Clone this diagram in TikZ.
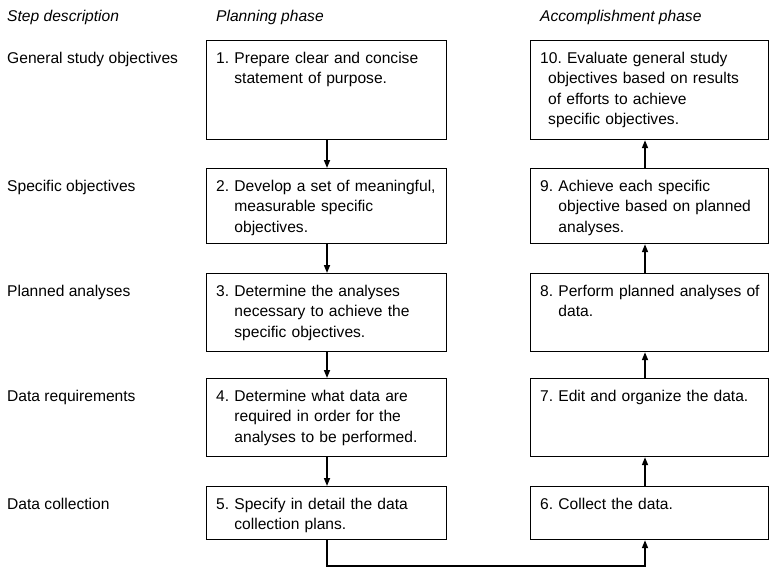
\documentclass[tikz,border=0pt]{standalone}
\usepackage{fontspec}
\setmainfont{Liberation Sans}
\usetikzlibrary{arrows.meta,calc}
\frenchspacing
\begin{document}
\begin{tikzpicture}[x=1pt,y=-1pt,
  box/.style={draw, line width=1.2pt, inner sep=0pt, anchor=north west},
  txt/.style={anchor=base west, align=left, inner sep=0pt, text width=235pt,
    font=\fontsize{15.6}{20.5}\selectfont\frenchspacing},
  lbl/.style={anchor=base west, inner sep=0pt, font=\fontsize{15.6}{20.5}\selectfont},
  hdr/.style={anchor=base west, inner sep=0pt, font=\fontsize{15.6}{20.5}\selectfont\itshape},
  arr/.style={line width=1.6pt, -{Triangle[length=8pt,width=6pt]}}]
\useasboundingbox (0,0) rectangle (770,568);
% headers
\node[hdr] (h1) at (7,21) {Step description};
\node[hdr] (h2) at (216,21) {Planning phase};
\node[hdr] (h3) at (540,21) {Accomplishment phase};
% left column boxes
\node[box, minimum width=240pt, minimum height=99pt] (b1) at (206,40) {};
\node[box, minimum width=240pt, minimum height=75pt] (b2) at (206,168) {};
\node[box, minimum width=240pt, minimum height=78pt] (b3) at (206,273) {};
\node[box, minimum width=240pt, minimum height=78pt] (b4) at (206,378) {};
\node[box, minimum width=240pt, minimum height=53pt] (b5) at (206,486) {};
% right column boxes
\node[box, minimum width=238pt, minimum height=99pt] (b10) at (530,40) {};
\node[box, minimum width=238pt, minimum height=75pt] (b9) at (530,168) {};
\node[box, minimum width=238pt, minimum height=78pt] (b8) at (530,273) {};
\node[box, minimum width=238pt, minimum height=78pt] (b7) at (530,378) {};
\node[box, minimum width=238pt, minimum height=53pt] (b6) at (530,486) {};
% labels
\node[lbl] (l1) at ($(b1.north west)+(-199,23)$) {General study objectives};
\node[lbl] (l2) at ($(b2.north west)+(-199,23)$) {Specific objectives};
\node[lbl] (l3) at ($(b3.north west)+(-199,23)$) {Planned analyses};
\node[lbl] (l4) at ($(b4.north west)+(-199,23)$) {Data requirements};
\node[lbl] (l5) at ($(b5.north west)+(-199,23)$) {Data collection};
% box texts
\node[txt] (t1) at ($(b1.north west)+(10,23)$) {1. Prepare clear and concise\\\hphantom{8. }statement of purpose.};
\node[txt] (t2) at ($(b2.north west)+(10,23)$) {2. Develop a set of meaningful,\\\hphantom{8. }measurable specific\\\hphantom{8. }objectives.};
\node[txt] (t3) at ($(b3.north west)+(10,23)$) {3. Determine the analyses\\\hphantom{8. }necessary to achieve the\\\hphantom{8. }specific objectives.};
\node[txt] (t4) at ($(b4.north west)+(10,23)$) {4. Determine what data are\\\hphantom{8. }required in order for the\\\hphantom{8. }analyses to be performed.};
\node[txt] (t5) at ($(b5.north west)+(10,23)$) {5. Specify in detail the data\\\hphantom{8. }collection plans.};
\node[txt] (t10) at ($(b10.north west)+(10,23)$) {10. Evaluate general study\\\hspace*{8pt}objectives based on results\\\hspace*{8pt}of efforts to achieve\\\hspace*{8pt}specific objectives.};
\node[txt] (t9) at ($(b9.north west)+(10,23)$) {9. Achieve each specific\\\hphantom{8. }objective based on planned\\\hphantom{8. }analyses.};
\node[txt] (t8) at ($(b8.north west)+(10,23)$) {8. Perform planned analyses of\\\hphantom{8. }data.};
\node[txt] (t7) at ($(b7.north west)+(10,23)$) {7. Edit and organize the data.};
\node[txt] (t6) at ($(b6.north west)+(10,23)$) {6. Collect the data.};
% connectors
\coordinate (la) at (327,0);
\coordinate (ra) at (645,0);
\coordinate (bl) at (0,566);
\draw[arr] (b1.south -| la) -- (b2.north -| la);
\draw[arr] (b2.south -| la) -- (b3.north -| la);
\draw[arr] (b3.south -| la) -- (b4.north -| la);
\draw[arr] (b4.south -| la) -- (b5.north -| la);
\draw[arr] (b5.south -| la) -- (bl -| la) -| (b6.south -| ra);
\draw[arr] (b6.north -| ra) -- (b7.south -| ra);
\draw[arr] (b7.north -| ra) -- (b8.south -| ra);
\draw[arr] (b8.north -| ra) -- (b9.south -| ra);
\draw[arr] (b9.north -| ra) -- (b10.south -| ra);
\end{tikzpicture}
\end{document}
